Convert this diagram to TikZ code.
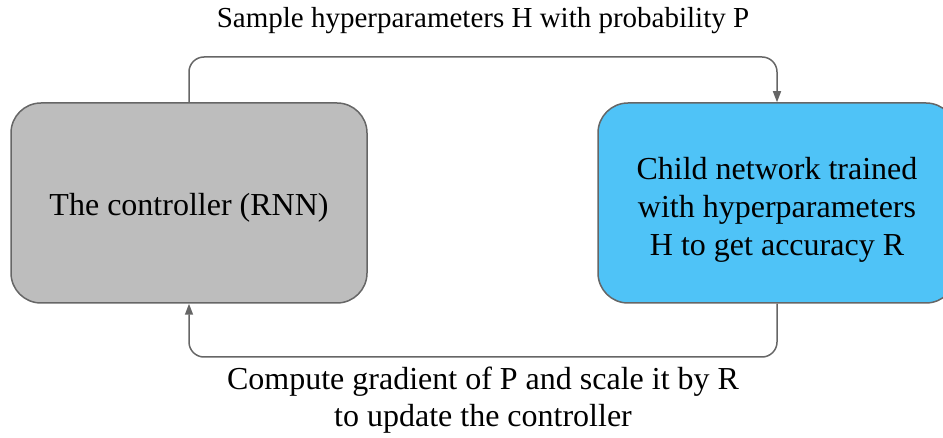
\documentclass[tikz,border=0pt]{standalone}
\usepackage{fontspec}
\setmainfont{Liberation Serif}
\usetikzlibrary{arrows.meta}
\definecolor{edgegray}{HTML}{666666}
\definecolor{ctrlfill}{HTML}{BDBDBD}
\definecolor{childfill}{HTML}{4FC3F7}
\begin{document}
\begin{tikzpicture}[x=1pt,y=-1pt,
  boxstyle/.style={draw=edgegray,line width=1.5pt,rounded corners=30pt,minimum width=356pt,minimum height=200pt,inner sep=0pt},
  boxtext/.style={anchor=base,align=center,font=\fontsize{32}{38}\selectfont,inner sep=0pt},
  conn/.style={draw=edgegray,line width=1.5pt,rounded corners=15pt},
  tip/.style={-{Triangle[width=8pt,length=11pt]}},
  lbl/.style={anchor=base,align=center,inner sep=0pt}]
\useasboundingbox (0,0) rectangle (943,438);
\node[boxstyle,fill=ctrlfill] (L) at (189,203) {};
\node[boxstyle,fill=childfill,minimum width=358pt] (R) at (777,203) {};
\node[boxtext] (Lt) at (189,216) {The controller (RNN)};
\node[boxtext] (Rt) at (777,256) {Child network trained\\with hyperparameters\\H to get accuracy R};
\coordinate (top) at (483,57);
\coordinate (bot) at (483,357);
\draw[conn,tip] (L.north) |- (top) -| (R.north);
\draw[conn,tip] (R.south) |- (bot) -| (L.south);
\node[lbl,font=\fontsize{29}{36}\selectfont] (t1) at (483,28) {Sample hyperparameters H with probability P};
\node[lbl,font=\fontsize{32}{37}\selectfont] (t2) at (483,427) {Compute gradient of P and scale it by R\\to update the controller};
\end{tikzpicture}
\end{document}
